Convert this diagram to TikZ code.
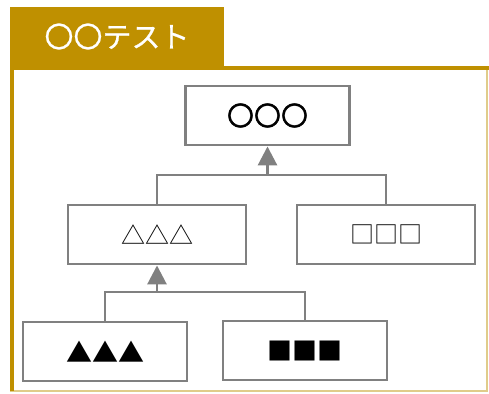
\documentclass[tikz,border=0pt]{standalone}
\usepackage{fontspec}
\setmainfont{Noto Sans CJK JP}
\newfontfamily\circfont{Noto Sans CJK JP}[FakeBold=1.5]
\newfontfamily\titlefont{Noto Sans CJK JP}[FakeBold=0.8]
\usetikzlibrary{arrows.meta}
\definecolor{gold}{HTML}{BF9000}
\definecolor{lightgold}{HTML}{E0CC8A}
\definecolor{boxgray}{HTML}{808080}
\tikzset{
  box/.style={draw=boxgray, line width=2.9pt, fill=white, minimum width=164pt, minimum height=59pt, inner sep=0pt, font=\fontsize{24}{26}\selectfont},
  wide/.style={minimum width=178pt},
  conn/.style={draw=boxgray, line width=2.9pt},
  arr/.style={conn, -{Triangle[length=19pt,width=19pt]}},
}
\begin{document}
\begin{tikzpicture}[x=1pt,y=-1pt]
\useasboundingbox (0,0) rectangle (489,393);
% frame
\draw[lightgold, line width=1.5pt] (11,67) rectangle (487,391);
\draw[gold, line width=4pt] (11.5,391) -- (11.5,68) -- (489,68);
% title tab
\node[fill=gold, minimum width=214pt, minimum height=59pt, inner sep=0pt, text=white, font=\titlefont\fontsize{29}{31}\selectfont] (title) at (117,36.5) {〇〇テスト};
% boxes
\node[box, font=\circfont\fontsize{27}{29}\selectfont] (top) at (267.5,115.5) {〇〇〇};
\node[box, wide] (tri) at (157,234.5) {△△△};
\node[box, wide] (sq) at (386,234.5) {□□□};
\node[box, font=\fontsize{26}{28}\selectfont] (btri) at (105,351.5) {▲▲▲};
\node[box, font=\fontsize{25}{27}\selectfont] (bsq) at (305,350.5) {■■■};
% connectors
\coordinate (j1) at (267.5,175);
\coordinate (j2) at (157,292);
\draw[conn] (tri.north) |- (j1) -| (sq.north);
\draw[arr] (j1) -- (top.south);
\draw[conn] (btri.north) |- (j2) -| (bsq.north);
\draw[arr] (j2) -- (tri.south);
\end{tikzpicture}
\end{document}
